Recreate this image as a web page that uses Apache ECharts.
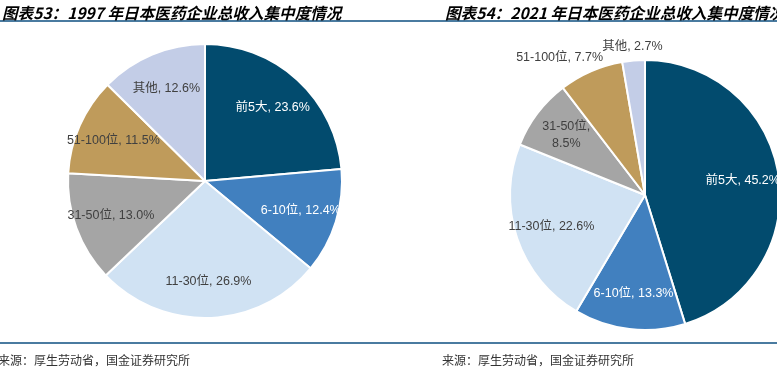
<!DOCTYPE html>
<html>
<head>
<meta charset="utf-8">
<script src="https://cdn.jsdelivr.net/npm/echarts@6/dist/echarts.min.js"></script>
<style>
html,body{margin:0;padding:0;background:#fff;}
#c{width:777px;height:382px;}
</style>
</head>
<body>
<div id="c"></div>
<script>
// ---- data ----
var categories = ['前5大', '6-10位', '11-30位', '31-50位', '51-100位', '其他'];
var values1997 = [23.6, 12.4, 26.9, 13.0, 11.5, 12.6];
var values2021 = [45.2, 13.3, 22.6, 8.5, 7.7, 2.7];
var title1997 = '图表53：1997 年日本医药企业总收入集中度情况';
var title2021 = '图表54：2021 年日本医药企业总收入集中度情况';
var sourceText = '来源：厚生劳动省，国金证券研究所';

// ---- style ----
var colors = ['#024B6E', '#4180BF', '#D0E2F3', '#A5A5A5', '#BF9B5B', '#C3CDE7'];
var labelColors = ['#ffffff', '#ffffff', '#404040', '#404040', '#404040', '#404040'];
var FONT = 'Liberation Sans, Arial, "Noto Sans CJK SC", sans-serif';
var LFS = 12.5;

function fmt(name, v, wrap) {
  return name + ',' + (wrap ? '\n' : ' ') + v.toFixed(1) + '%';
}

function sliceData(values) {
  return categories.map(function (c, i) {
    return { name: c, value: values[i], itemStyle: { color: colors[i] } };
  });
}

function labelData(values, opts) {
  opts = opts || {};
  return categories.map(function (c, i) {
    var hidden = opts.outside && opts.outside.indexOf(i) >= 0;
    return {
      name: c, value: values[i],
      label: {
        show: !hidden,
        color: labelColors[i],
        formatter: fmt(c, values[i], opts.wrap && opts.wrap.indexOf(i) >= 0)
      }
    };
  });
}

function basePie(center, r, values) {
  return {
    type: 'pie', center: center, radius: r, startAngle: 90, clockwise: true,
    silent: true, avoidLabelOverlap: false, animation: false,
    itemStyle: { borderColor: '#fff', borderWidth: 2 },
    label: { show: false },
    labelLine: { show: false },
    data: sliceData(values)
  };
}

function labelPie(center, r, values, opts) {
  return {
    type: 'pie', center: center, radius: [r * 0.42, r], startAngle: 90, clockwise: true,
    silent: true, avoidLabelOverlap: false, animation: false,
    itemStyle: { color: 'rgba(0,0,0,0)', borderWidth: 0 },
    label: { show: true, position: 'inside', fontSize: LFS, fontFamily: FONT, lineHeight: 17 },
    labelLine: { show: false },
    data: labelData(values, opts)
  };
}

var c1 = [205, 181], r1 = 137;
var c2 = [645, 195], r2 = 135;

var pie2 = basePie(c2, r2, values2021);
// outside labels for the two small slices of 2021
pie2.data[4].label = { show: true, position: 'outside', color: '#404040', fontSize: LFS, fontFamily: FONT,
  formatter: fmt(categories[4], values2021[4]), distanceToLabelLine: 0 };
pie2.data[4].labelLine = { show: false, length: 15, length2: 0 };
pie2.data[5].label = { show: true, position: 'outside', color: '#404040', fontSize: LFS, fontFamily: FONT,
  formatter: fmt(categories[5], values2021[5]), distanceToLabelLine: 0 };
pie2.data[5].labelLine = { show: false, length: 14, length2: 0 };
pie2.labelLayout = function (p) {
  if (p.dataIndex === 5) return { align: 'center' };
  if (p.dataIndex === 4) return { dx: 18 };
};

var titleStyle = { fontSize: 15.6, fontWeight: 'bold', fontStyle: 'italic', color: '#000', fontFamily: '"Noto Sans CJK SC", sans-serif' };
var srcStyle = { text: sourceText, fontSize: 12, fill: '#333', verticalAlign: 'middle', fontFamily: '"Noto Sans CJK SC", sans-serif' };

var chart = echarts.init(document.getElementById('c'), null, { renderer: 'canvas' });
chart.setOption({
  backgroundColor: '#fff',
  animation: false,
  title: [
    { text: title1997, left: -3, top: 0, textStyle: titleStyle },
    { text: title2021, left: 440, top: 0, textStyle: titleStyle }
  ],
  graphic: [
    { type: 'line', shape: { x1: 0, y1: 21, x2: 777, y2: 21 }, style: { stroke: '#4A7BA0', lineWidth: 2 } },
    { type: 'line', shape: { x1: 0, y1: 343, x2: 777, y2: 343 }, style: { stroke: '#4A7BA0', lineWidth: 2 } },
    { type: 'text', x: -2, y: 360, style: srcStyle },
    { type: 'text', x: 442, y: 360, style: srcStyle }
  ],
  series: [
    basePie(c1, r1, values1997),
    labelPie(c1, r1, values1997),
    pie2,
    labelPie(c2, r2, values2021, { outside: [4, 5], wrap: [3] })
  ]
});
</script>
</body>
</html>
